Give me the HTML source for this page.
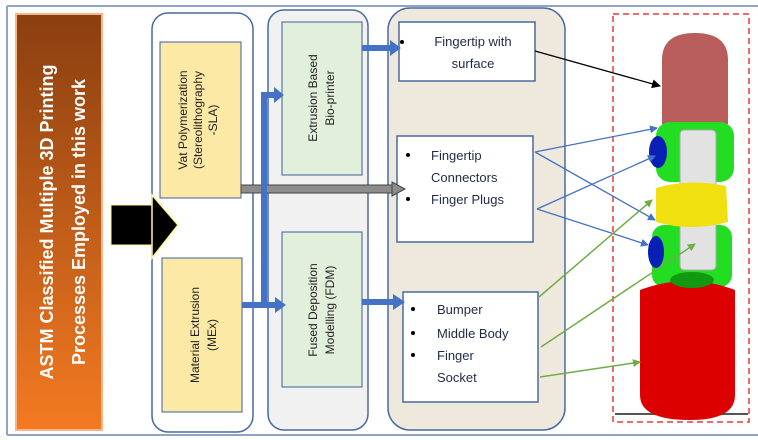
<!DOCTYPE html>
<html><head><meta charset="utf-8"><style>
html,body{margin:0;padding:0;background:#fff}
svg{display:block}
text{font-family:"Liberation Sans",sans-serif}
</style></head><body>
<svg width="758" height="440" viewBox="0 0 758 440" xmlns="http://www.w3.org/2000/svg">
<defs>
<linearGradient id="og" x1="0" y1="0" x2="0" y2="1">
<stop offset="0" stop-color="#8a3f10"/><stop offset="1" stop-color="#f47a22"/></linearGradient>
<marker id="ab" markerWidth="8" markerHeight="8" refX="7" refY="4" orient="auto" markerUnits="userSpaceOnUse"><path d="M0,0 L8,4 L0,8 z" fill="#4472c4"/></marker>
<marker id="ag" markerWidth="8" markerHeight="8" refX="7" refY="4" orient="auto" markerUnits="userSpaceOnUse"><path d="M0,0 L8,4 L0,8 z" fill="#70ad47"/></marker>
<marker id="ak" markerWidth="9" markerHeight="9" refX="8" refY="4.5" orient="auto" markerUnits="userSpaceOnUse"><path d="M0,0 L9,4.5 L0,9 z" fill="#000"/></marker>
</defs>
<line x1="7" y1="6" x2="758" y2="6" stroke="#8fa3c9" stroke-width="2"/>
<line x1="7" y1="435" x2="758" y2="435" stroke="#8fa3c9" stroke-width="2"/>
<line x1="7" y1="6" x2="7" y2="435" stroke="#8fa3c9" stroke-width="2"/>
<rect x="16" y="14" width="86" height="416" fill="url(#og)" stroke="#f7b58a" stroke-width="2"/>
<g transform="translate(53,222) rotate(-90)" fill="#fff" font-weight="bold" font-size="18" text-anchor="middle">
<text x="0" y="0">ASTM Classified Multiple 3D Printing</text>
<text x="0" y="32">Processes Employed in this work</text></g>
<!-- column 1 -->
<rect x="152" y="13" width="101" height="419" rx="16" fill="#fff" stroke="#4a6aa0" stroke-width="1.5"/>
<rect x="160" y="42" width="81" height="156" fill="#fde9a6" stroke="#3c5f9c"/>
<rect x="162" y="258" width="80" height="154" fill="#fde9a6" stroke="#3c5f9c"/>
<g transform="translate(200,120) rotate(-90)" font-size="12" text-anchor="middle" fill="#222">
<text x="0" y="-13">Vat Polymerization</text><text x="0" y="2">(Stereolithography</text><text x="0" y="17">-SLA)</text></g>
<g transform="translate(202,335) rotate(-90)" font-size="12" text-anchor="middle" fill="#222">
<text x="0" y="-3">Material Extrusion</text><text x="0" y="14">(MEx)</text></g>
<!-- black arrow -->
<rect x="111" y="205" width="42" height="40" fill="#000" stroke="#fff59a" stroke-width="1"/>
<path d="M152,195 L178,225 L152,258 z" fill="#000" stroke="#fff59a" stroke-width="1.5"/>
<!-- column 2 -->
<rect x="268" y="10" width="100" height="420" rx="16" fill="#f1f1f1" stroke="#4a6aa0" stroke-width="1.5"/>
<rect x="282" y="22" width="80" height="153" fill="#e2efda" stroke="#3c5f9c"/>
<rect x="282" y="232" width="80" height="155" fill="#e2efda" stroke="#3c5f9c"/>
<g transform="translate(322,98) rotate(-90)" font-size="12" text-anchor="middle" fill="#222">
<text x="0" y="-5">Extrusion Based</text><text x="0" y="12">Bio-printer</text></g>
<g transform="translate(322,310) rotate(-90)" font-size="12" text-anchor="middle" fill="#222">
<text x="0" y="-5">Fused Deposition</text><text x="0" y="12">Modelling (FDM)</text></g>
<!-- column 3 -->
<rect x="388" y="8" width="177" height="422" rx="22" fill="#efe9dd" stroke="#4a6aa0" stroke-width="1.5"/>
<rect x="399" y="22" width="136" height="59" fill="#fff" stroke="#4a6aa0" stroke-width="1.5"/>
<rect x="397" y="136" width="136" height="106" fill="#fff" stroke="#4a6aa0" stroke-width="1.5"/>
<rect x="403" y="292" width="135" height="110" fill="#fff" stroke="#4a6aa0" stroke-width="1.5"/>
<g font-size="13" fill="#1f2a44">
<circle cx="402" cy="42" r="2" fill="#000"/>
<text x="473" y="46" text-anchor="middle">Fingertip with</text>
<text x="473" y="68" text-anchor="middle">surface</text>
<circle cx="408" cy="155" r="2" fill="#000"/><circle cx="408" cy="199" r="2" fill="#000"/>
<text x="431" y="160">Fingertip</text><text x="431" y="182">Connectors</text><text x="431" y="204">Finger Plugs</text>
<circle cx="413" cy="309" r="2" fill="#000"/><circle cx="413" cy="333" r="2" fill="#000"/><circle cx="413" cy="355" r="2" fill="#000"/>
<text x="437" y="314">Bumper</text><text x="437" y="338">Middle Body</text><text x="437" y="360">Finger</text><text x="437" y="382">Socket</text>
</g>
<!-- connectors -->
<rect x="241" y="185" width="152" height="8" fill="#8c8c8c" stroke="#444"/>
<path d="M392,182 L405,189 L392,196 z" fill="#8c8c8c" stroke="#444"/>
<rect x="261" y="93" width="6" height="214" fill="#4472c4"/>
<rect x="261" y="92" width="14" height="6" fill="#4472c4"/><path d="M274,87 L284,95 L274,103 z" fill="#4472c4"/>
<rect x="242" y="302" width="34" height="6" fill="#4472c4"/><path d="M275,297 L286,305 L275,313 z" fill="#4472c4"/>
<rect x="362" y="45" width="29" height="6" fill="#4472c4"/><path d="M390,40 L401,48 L390,56 z" fill="#4472c4"/>
<rect x="362" y="299" width="32" height="6" fill="#4472c4"/><path d="M393,294 L405,302 L393,310 z" fill="#4472c4"/>
<!-- finger -->
<rect x="613" y="14" width="136" height="408" fill="none" stroke="#e83a3a" stroke-width="1.5" stroke-dasharray="6,4"/>
<line x1="615" y1="414" x2="748" y2="414" stroke="#555" stroke-width="2"/>
<path d="M662,60 Q662,33 695,33 Q728,33 728,60 L728,124 L662,124 z" fill="#b85c5c"/>
<rect x="656" y="122" width="78" height="60" rx="14" fill="#22dd22"/>
<rect x="652" y="225" width="80" height="62" rx="12" fill="#22dd22"/>
<rect x="680" y="130" width="36" height="140" rx="4" fill="#e2e2e2" stroke="#aaa"/>
<ellipse cx="658" cy="152" rx="9" ry="16" fill="#0a1fb5"/>
<ellipse cx="656" cy="252" rx="8" ry="16" fill="#0a1fb5"/>
<path d="M640,290 Q688,272 735,290 L735,395 Q735,420 690,420 Q640,420 640,395 z" fill="#dd0000"/>
<ellipse cx="692" cy="280" rx="22" ry="8" fill="#119911"/>
<path d="M656,188 Q690,178 726,186 L728,222 Q690,232 656,222 z" fill="#f0e010"/>
<line x1="535" y1="51" x2="660" y2="86" stroke="#000" stroke-width="1.3" marker-end="url(#ak)"/>
<g stroke="#4472c4" stroke-width="1.3" fill="none">
<line x1="535" y1="152" x2="657" y2="128" marker-end="url(#ab)"/>
<line x1="535" y1="152" x2="655" y2="220" marker-end="url(#ab)"/>
<line x1="537" y1="209" x2="655" y2="156" marker-end="url(#ab)"/>
<line x1="537" y1="209" x2="648" y2="245" marker-end="url(#ab)"/>
</g>
<g stroke="#70ad47" stroke-width="1.5" fill="none">
<line x1="539" y1="297" x2="652" y2="200" marker-end="url(#ag)"/>
<line x1="541" y1="347" x2="695" y2="244" marker-end="url(#ag)"/>
<line x1="540" y1="377" x2="640" y2="362" marker-end="url(#ag)"/>
</g>
</svg>
</body></html>
